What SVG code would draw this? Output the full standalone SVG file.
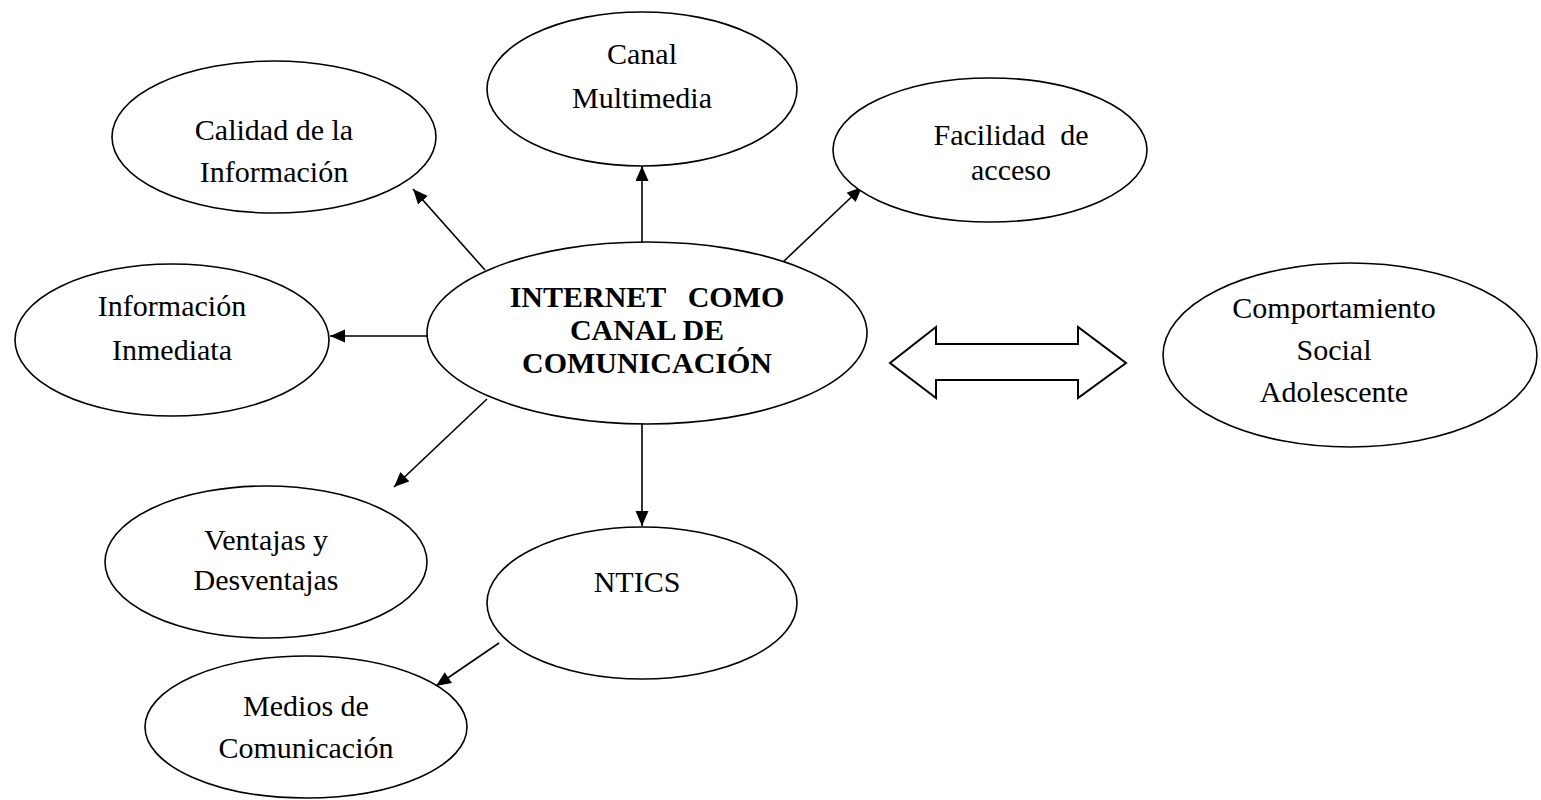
<svg xmlns="http://www.w3.org/2000/svg" width="1541" height="800" viewBox="0 0 1541 800">
<style>
.n{fill:#fff;stroke:#000;stroke-width:1.6}
.t{font-family:"Liberation Serif","Times New Roman",serif;font-size:30px;fill:#000;text-anchor:middle}
.b{font-weight:bold}
.c{stroke:#000;stroke-width:1.6;fill:none;marker-end:url(#ah)}
</style>
<defs>
<marker id="ah" markerUnits="userSpaceOnUse" markerWidth="16" markerHeight="14" refX="15" refY="6.5" orient="auto">
<path d="M0,0 L15,6.5 L0,13 z" fill="#000"/>
</marker>
</defs>
<rect width="1541" height="800" fill="#fff"/>
<g id="connectors">
<line class="c" x1="485" y1="270" x2="413" y2="189"/>
<line class="c" x1="642" y1="242" x2="642" y2="166"/>
<line class="c" x1="783" y1="262" x2="862" y2="187"/>
<line class="c" x1="427" y1="336" x2="330" y2="336"/>
<line class="c" x1="487" y1="399" x2="394" y2="487"/>
<line class="c" x1="642" y1="424" x2="642" y2="526"/>
<line class="c" x1="499" y1="643" x2="436" y2="686"/>
<polygon points="890,363 936,327 936,344 1078,344 1078,327 1126,363 1078,398 1078,380 936,380 936,398" fill="#fff" stroke="#000" stroke-width="2"/>
</g>
<g id="canal">
<ellipse class="n" cx="642" cy="89" rx="155" ry="77"/>
<text class="t" x="642" y="64">Canal</text>
<text class="t" x="642" y="108">Multimedia</text>
</g>
<g id="calidad">
<ellipse class="n" cx="274" cy="137" rx="162" ry="76"/>
<text class="t" x="274" y="140">Calidad de la</text>
<text class="t" x="274" y="182">Información</text>
</g>
<g id="facilidad">
<ellipse class="n" cx="990" cy="150" rx="157" ry="72"/>
<text class="t" x="1011" y="145" xml:space="preserve">Facilidad  de</text>
<text class="t" x="1011" y="180">acceso</text>
</g>
<g id="informacion">
<ellipse class="n" cx="172" cy="340" rx="157" ry="76"/>
<text class="t" x="172" y="316">Información</text>
<text class="t" x="172" y="360">Inmediata</text>
</g>
<g id="central">
<ellipse class="n" cx="647" cy="333" rx="220" ry="91"/>
<text class="t b" y="307"><tspan x="588">INTERNET</tspan><tspan x="736">COMO</tspan></text>
<text class="t b" x="647" y="340">CANAL DE</text>
<text class="t b" x="647" y="373">COMUNICACIÓN</text>
</g>
<g id="comportamiento">
<ellipse class="n" cx="1350" cy="355" rx="187" ry="92"/>
<text class="t" x="1334" y="318">Comportamiento</text>
<text class="t" x="1334" y="360">Social</text>
<text class="t" x="1334" y="402">Adolescente</text>
</g>
<g id="ventajas">
<ellipse class="n" cx="266" cy="562" rx="161" ry="76"/>
<text class="t" x="266" y="550">Ventajas y</text>
<text class="t" x="266" y="590">Desventajas</text>
</g>
<g id="ntics">
<ellipse class="n" cx="642" cy="603" rx="155" ry="76"/>
<text class="t" x="637" y="592">NTICS</text>
</g>
<g id="medios">
<ellipse class="n" cx="306" cy="727" rx="161" ry="71"/>
<text class="t" x="306" y="716">Medios de</text>
<text class="t" x="306" y="758">Comunicación</text>
</g>
</svg>
